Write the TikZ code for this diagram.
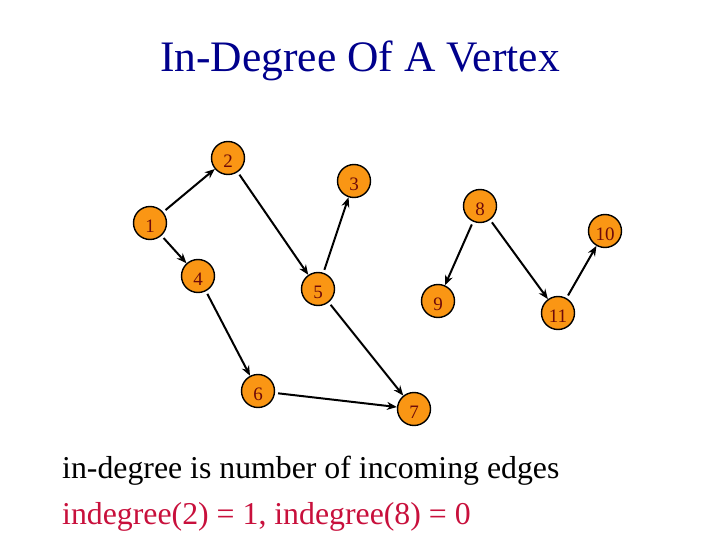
\documentclass[tikz,border=0pt]{standalone}
\usepackage{fontspec}
\setmainfont{Liberation Serif}
\usetikzlibrary{arrows.meta}
\definecolor{titleblue}{RGB}{0,0,140}
\definecolor{vorange}{RGB}{250,150,20}
\definecolor{vlabel}{RGB}{110,10,10}
\definecolor{hired}{RGB}{200,16,60}
\tikzset{
  vertex/.style={circle, draw=black, line width=1.4pt, fill=vorange, minimum size=33pt, inner sep=0pt,
    text=vlabel, font=\fontsize{19}{19}\selectfont, text height=18.5pt, text depth=0pt},
  edge/.style={line width=2pt, -{Stealth[length=10pt,width=8pt]}, shorten <=3pt},
  bodytext/.style={anchor=base west, inner sep=0pt, font=\fontsize{31.8}{36}\selectfont}
}
\begin{document}
\begin{tikzpicture}[x=1pt,y=-1pt]
\useasboundingbox (0,0) rectangle (720,540);
\node[anchor=base, inner sep=0pt, text=titleblue, font=\fontsize{43.5}{48}\selectfont] (title) at (360,72) {In-Degree Of A Vertex};
\node[vertex] (v1) at (150,223) {1};
\node[vertex] (v2) at (228,158) {2};
\node[vertex] (v3) at (354,181) {3};
\node[vertex] (v4) at (198,276) {4};
\node[vertex] (v5) at (318,289) {5};
\node[vertex] (v6) at (258,391) {6};
\node[vertex] (v7) at (414,409) {7};
\node[vertex] (v8) at (480,206) {8};
\node[vertex] (v9) at (438,301) {9};
\node[vertex] (v10) at (605,231) {10};
\node[vertex] (v11) at (558,313) {11};
\draw[edge] (v1) -- (v2);
\draw[edge] (v1) -- (v4);
\draw[edge] (v2) -- (v5);
\draw[edge] (v5) -- (v3);
\draw[edge] (v4) -- (v6);
\draw[edge] (v5) -- (v7);
\draw[edge] (v6) -- (v7);
\draw[edge] (v8) -- (v9);
\draw[edge] (v8) -- (v11);
\draw[edge] (v11) -- (v10);
\node[bodytext] (line1) at (62,478) {in-degree is number of incoming edges};
\node[bodytext, text=hired] (line2) at (62,524) {indegree(2) = 1, indegree(8) = 0};
\end{tikzpicture}
\end{document}
